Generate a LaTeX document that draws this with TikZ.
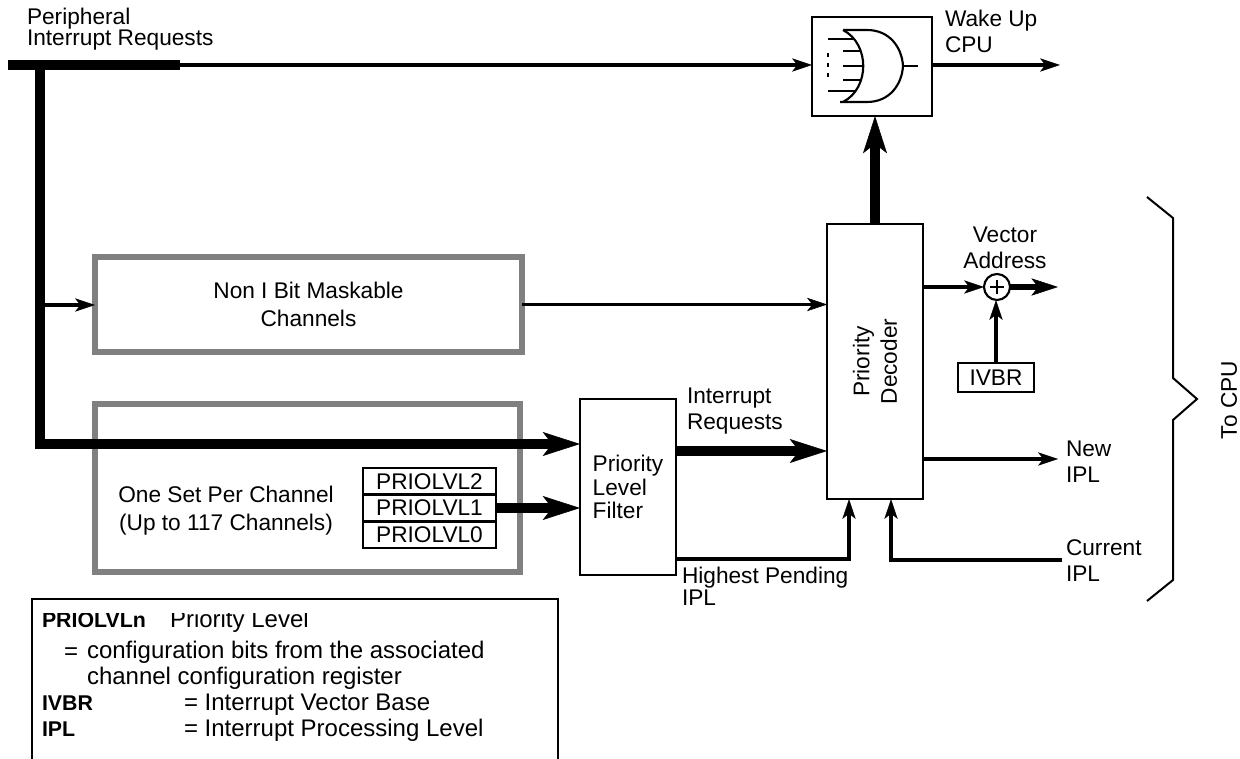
\documentclass[tikz,border=0pt]{standalone}
\usepackage{fontspec}
\setmainfont{Liberation Sans}
\usetikzlibrary{arrows.meta}
\newcommand\myfs[1]{\fontsize{17pt}{#1}\selectfont}
\newcommand\lgfs[1]{\fontsize{18pt}{#1}\selectfont}
\definecolor{boxgray}{RGB}{128,128,128}
\tikzset{
  every node/.style={font=\myfs{19.5pt}, inner sep=0pt, outer sep=0pt},
  wire/.style={line width=2.3pt},
  blk/.style={draw, line width=2pt},
  gbox/.style={draw=boxgray, line width=4.5pt},
  bus/.style={line width=8pt},
  fat/.style={line width=7.5pt},
  mid/.style={line width=4.5pt},
  arr/.style={-{Stealth[length=15pt,width=10pt,inset=4pt,line width=0.4pt]}},
  fatarr/.style={-{Stealth[length=28pt,width=18pt,inset=7pt,line width=0.4pt]}},
  midarr/.style={-{Stealth[length=20pt,width=13pt,inset=5pt,line width=0.4pt]}},
  gate/.style={line width=1.6pt},
  lbl/.style={anchor=base west, align=left},
  lg/.style={anchor=base west, align=left, font=\lgfs{19.5pt}},
  lgb/.style={anchor=base west, font=\fontsize{16pt}{19.5pt}\selectfont\bfseries},
}
\begin{document}
\begin{tikzpicture}[x=0.75pt,y=-0.75pt]
\useasboundingbox (0,0) rectangle (1240,759);

% ---------- boxes ----------
\node[blk, minimum width=90pt, minimum height=74.25pt] (orbox) at (872,66.5) {};
\node[blk, minimum width=72pt, minimum height=206.25pt] (dec) at (875,361.5) {};
\node[blk, minimum width=72pt, minimum height=132pt, align=left, font=\myfs{17.6pt}] (filt) at (628,487) {Priority\\Level\\Filter};
\node[gbox, minimum width=320.25pt, minimum height=71.25pt, align=center, font=\myfs{21pt}] (nonI) at (308.5,304.5) {Non I Bit Maskable\\Channels};
\node[gbox, minimum width=318.75pt, minimum height=126pt] (oneset) at (307.5,488) {};
\node[align=center, font=\myfs{21pt}] (onetxt) at (226,511) {One Set Per Channel\\(Up to 117 Channels)};
\node[blk, minimum width=99.75pt, minimum height=20pt] (p2) at (429.5,481.33) {PRIOLVL2};
\node[blk, minimum width=99.75pt, minimum height=20pt] (p1) at (429.5,508) {PRIOLVL1};
\node[blk, minimum width=99.75pt, minimum height=20pt] (p0) at (429.5,534.67) {PRIOLVL0};
\node[blk, minimum width=57pt, minimum height=21.75pt] (ivbr) at (996,377.5) {IVBR};
\node[circle, draw, line width=1.6pt, minimum size=19.5pt] (add) at (997,287) {};
\draw[line width=1.6pt] ([xshift=-5pt]add.center) -- ([xshift=5pt]add.center);
\draw[line width=1.6pt] ([yshift=-5pt]add.center) -- ([yshift=5pt]add.center);

% ---------- OR gate symbol ----------
\draw[gate] (843,30) .. controls (870,44) and (870,88) .. (843,102);
\draw[gate] (843,30) -- (867,30) .. controls (890,30) and (902,48) .. (903,66)
             .. controls (902,84) and (890,102) .. (867,102) -- (840,102);
\draw[gate] (903,66) -- (918,66);
\draw[gate] (828,39) -- (854,39);
\draw[gate] (843,51) -- (860,51);
\draw[gate] (843,66) -- (863,66);
\draw[gate] (843,80) -- (860,80);
\draw[gate] (828,91) -- (855,91);
\draw[line width=2.2pt, dash pattern=on 3pt off 4.5pt] (828,53) -- (828,77);

% ---------- labels (anchor = baseline of the last line) ----------
\node[lbl, font=\myfs{15pt}] (periph) at (27,46) {Peripheral\\Interrupt Requests};
\node[lbl] (wake) at (945,53) {Wake Up\\CPU};
\node[anchor=base, align=center] (va) at (1005,269) {Vector\\Address};
\node[rotate=90, align=center, font=\myfs{20.5pt}] (dectxt) at (dec.center) {Priority\\Decoder};
\node[lbl] (irqtxt) at (687,430) {Interrupt\\Requests};
\node[lbl, font=\myfs{14.5pt}] (hptxt) at (682,605) {Highest Pending\\IPL};
\node[lbl, font=\myfs{20pt}] (newtxt) at (1066,483) {New\\IPL};
\node[lbl, font=\myfs{19pt}] (curtxt) at (1066,581) {Current\\IPL};
\node[rotate=90] (tocpu) at (1229,400) {To CPU};

% ---------- coordinates ----------
\coordinate (busL) at (8,65);
\coordinate (busR) at (180,65);
\coordinate (busTop) at (40,61);
\coordinate (busCorner) at (40,444);
\coordinate (tap1) at (40,305);
\coordinate (wakeR) at (1060,65);
\coordinate (irq) at (700,451);
\coordinate (vaR) at (1058,287);
\coordinate (newR) at (1058,459);
\coordinate (hpC) at (849,559);
\coordinate (cuR) at (1062,560);
\coordinate (cuC) at (891,560);

% ---------- connectors ----------
\draw[wire, arr] (busR) -- (busR -| orbox.west);
\draw[wire, arr] (wakeR -| orbox.east) -- (wakeR);
\draw[wire, arr] (tap1) -- (tap1 -| nonI.west);
\draw[wire, arr] (nonI.east) -- (nonI.east -| dec.west);
\draw[bus] (busL) -- (busR);
\draw[bus, fatarr] (busTop) -- (busCorner) -- (busCorner -| filt.west);
\draw[fat, fatarr] (p1.east) -- (p1.east -| filt.west);
\draw[fat, fatarr] (irq -| filt.east) -- (irq -| dec.west);
\draw[fat, fatarr] (dec.north) -- (dec.north |- orbox.south);
\draw[wire, arr] (dec.east |- add) -- (add.west);
\draw[mid, midarr] (add.east) -- (vaR);
\draw[wire, arr] (ivbr.north) -- (ivbr.north |- add.south);
\draw[wire, arr] (newR -| dec.east) -- (newR);
\draw[wire, arr] (hpC -| filt.east) -- (hpC) -- (hpC |- dec.south);
\draw[wire, arr] (cuR) -- (cuC) -- (cuC |- dec.south);

% ---------- brace ----------
\draw[line width=1.5pt] (1147,197) -- (1173,218) -- (1173,378) -- (1197,399)
      -- (1173,420) -- (1173,580) -- (1147,601);

% ---------- legend ----------
\draw[line width=2pt] (32,759) -- (32,599) -- (558,599) -- (558,759);
\begin{scope}
\clip (32,613) rectangle (558,759);
\node[lgb] (lgA) at (42,627) {PRIOLVLn};
\node[lg] (lgB) at (170,627) {Priority Level};
\node[lg] (lgC) at (64,659) {=};
\node[lg] (lgD) at (87,684) {configuration bits from the associated\\channel configuration register};
\node[lgb] (lgE) at (42,710) {IVBR};
\node[lg] (lgF) at (184,710) {= Interrupt Vector Base};
\node[lgb] (lgG) at (42,736) {IPL};
\node[lg] (lgH) at (184,736) {= Interrupt Processing Level};
\end{scope}
\end{tikzpicture}
\end{document}
